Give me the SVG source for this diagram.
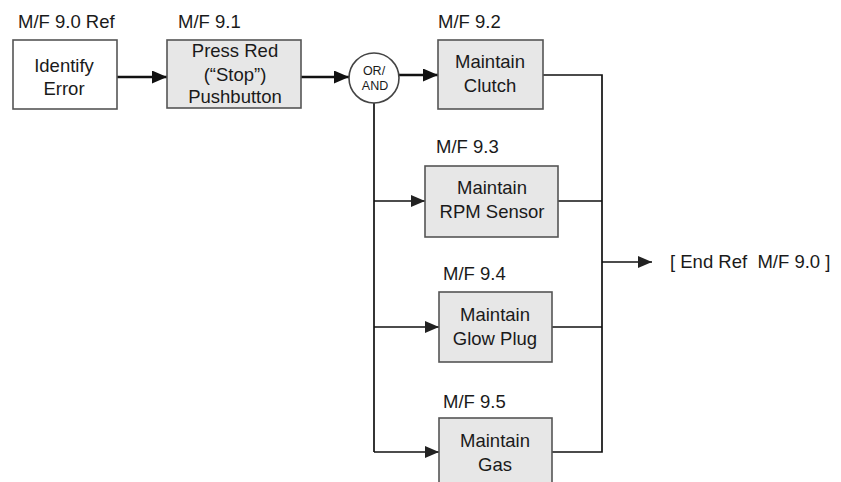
<svg xmlns="http://www.w3.org/2000/svg" width="841" height="482" viewBox="0 0 841 482">
  <defs>
    <marker id="arrow" viewBox="0 0 15 13" refX="15" refY="6.5" markerWidth="15" markerHeight="13" markerUnits="userSpaceOnUse" orient="auto">
      <path d="M0,0 L15,6.5 L0,13 z" fill="#111"/>
    </marker>
    <marker id="arrow-s" viewBox="0 0 14 12" refX="14" refY="6" markerWidth="14" markerHeight="12" markerUnits="userSpaceOnUse" orient="auto">
      <path d="M0,0 L14,6 L0,12 z" fill="#222"/>
    </marker>
  </defs>
  <style>
    text { font-family: "Liberation Sans", Arial, sans-serif; fill: #1a1a1a; }
    .lbl { font-size: 18.5px; }
    .body { font-size: 18.5px; text-anchor: middle; }
    .gate { font-size: 12.5px; text-anchor: middle; }
    .box { fill: #e7e7e7; stroke: #555; stroke-width: 1.6; }
    .plain { fill: #fff; stroke: #555; stroke-width: 1.6; }
    .wire { fill: none; stroke: #111; stroke-width: 1.7; }
    .main { fill: none; stroke: #111; stroke-width: 2.6; }
  </style>
  <rect width="841" height="482" fill="#fff"/>

  <g id="connectors">
    <line class="main" x1="117" y1="77" x2="167" y2="77" marker-end="url(#arrow)"/>
    <line class="main" x1="301" y1="77" x2="349" y2="77" marker-end="url(#arrow)"/>
    <line class="main" x1="399" y1="75" x2="438" y2="75" marker-end="url(#arrow)"/>
    <line class="wire" x1="374" y1="103" x2="374" y2="452"/>
    <line class="wire" x1="374" y1="201" x2="425" y2="201" marker-end="url(#arrow-s)"/>
    <line class="wire" x1="374" y1="327" x2="439" y2="327" marker-end="url(#arrow-s)"/>
    <line class="wire" x1="374" y1="452" x2="439" y2="452" marker-end="url(#arrow-s)"/>
    <polyline class="wire" points="543,75 602,75 602,452 552,452"/>
    <line class="wire" x1="558" y1="201" x2="602" y2="201"/>
    <line class="wire" x1="552" y1="327" x2="602" y2="327"/>
    <line class="wire" x1="602" y1="262" x2="652" y2="262" marker-end="url(#arrow-s)"/>
  </g>

  <g id="mf90">
    <text class="lbl" x="18" y="28">M/F 9.0 Ref</text>
    <rect class="plain" x="13" y="40" width="104" height="69"/>
    <text class="body" x="64" y="72">Identify</text>
    <text class="body" x="64" y="95">Error</text>
  </g>

  <g id="mf91">
    <text class="lbl" x="178" y="28">M/F 9.1</text>
    <rect class="box" x="167" y="40" width="134" height="68"/>
    <text class="body" x="235" y="57">Press Red</text>
    <text class="body" x="235" y="81">(“Stop”)</text>
    <text class="body" x="235" y="103">Pushbutton</text>
  </g>

  <g id="gate">
    <circle cx="374" cy="78" r="25" fill="#fff" stroke="#444" stroke-width="1.6"/>
    <text class="gate" x="374" y="75">OR/</text>
    <text class="gate" x="375" y="90">AND</text>
  </g>

  <g id="mf92">
    <text class="lbl" x="438" y="28">M/F 9.2</text>
    <rect class="box" x="438" y="40" width="105" height="69"/>
    <text class="body" x="490" y="68">Maintain</text>
    <text class="body" x="490" y="92">Clutch</text>
  </g>

  <g id="mf93">
    <text class="lbl" x="436" y="153">M/F 9.3</text>
    <rect class="box" x="425" y="166" width="133" height="71"/>
    <text class="body" x="492" y="194">Maintain</text>
    <text class="body" x="492" y="218">RPM Sensor</text>
  </g>

  <g id="mf94">
    <text class="lbl" x="443" y="280">M/F 9.4</text>
    <rect class="box" x="439" y="292" width="113" height="70"/>
    <text class="body" x="495" y="321">Maintain</text>
    <text class="body" x="495" y="345">Glow Plug</text>
  </g>

  <g id="mf95">
    <text class="lbl" x="443" y="408">M/F 9.5</text>
    <rect class="box" x="439" y="418" width="113" height="70"/>
    <text class="body" x="495" y="447">Maintain</text>
    <text class="body" x="495" y="471">Gas</text>
  </g>

  <g id="end">
    <text class="lbl" x="670" y="268" style="white-space:pre">[ End Ref  M/F 9.0 ]</text>
  </g>
</svg>
